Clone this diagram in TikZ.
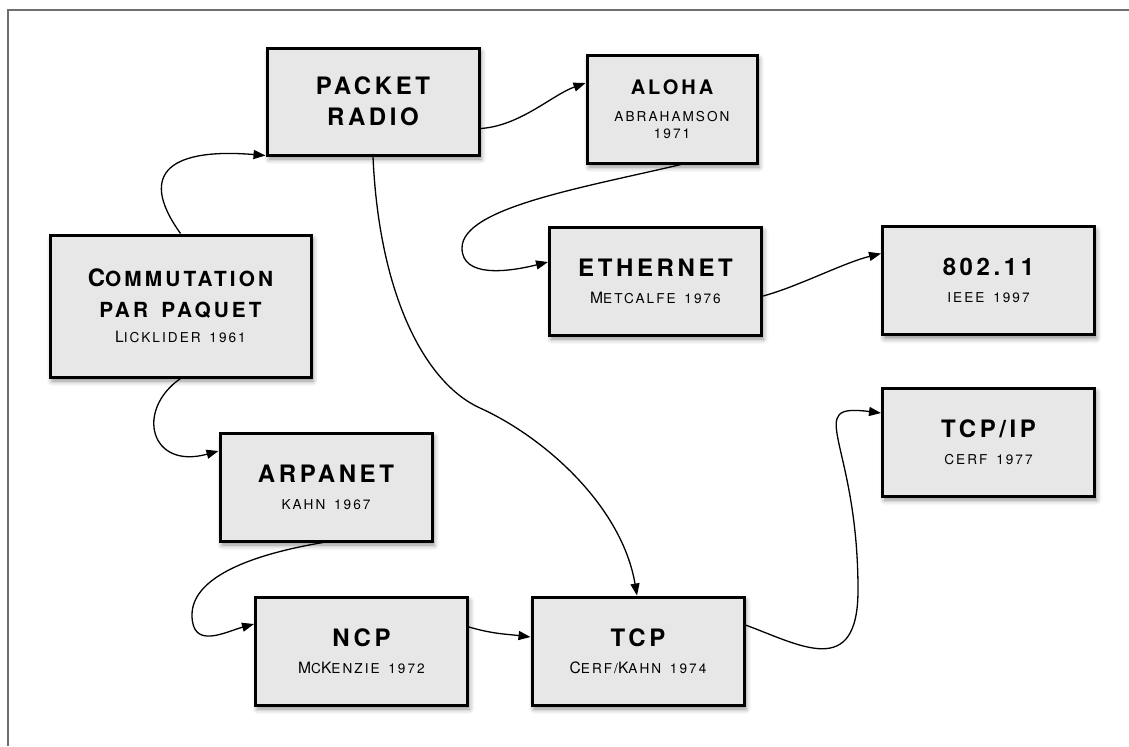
\documentclass[tikz,border=0pt]{standalone}
\usepackage{fontspec}
\setmainfont{TeX Gyre Heros}[LetterSpace=15,WordSpace=1.5]
\usetikzlibrary{arrows.meta,calc,shadows.blur}

\definecolor{boxgray}{RGB}{231,231,231}
\definecolor{framegray}{RGB}{110,110,110}

\newcommand{\titre}[2][12]{{\fontsize{#1}{13.5}\selectfont\bfseries #2}}
\newcommand{\petit}[1]{{\fontsize{6.8}{13.5}\selectfont #1}}
\newcommand{\initiale}[1]{{\fontsize{7.8}{13.5}\selectfont #1}}

\tikzset{
  techbox/.style={draw, line width=1.5pt, fill=boxgray, inner sep=0pt,
    minimum width=106pt, minimum height=54pt, align=center,
    font=\fontsize{7}{13.5}\selectfont,
    blur shadow={shadow xshift=1pt, shadow yshift=-2pt, shadow blur radius=2.5pt, shadow opacity=45}},
  link/.style={line width=0.65pt, -{Triangle[length=6pt,width=4.5pt]}}
}

\begin{document}
\begin{tikzpicture}[x=0.5pt,y=-0.5pt]
\useasboundingbox (0,0) rectangle (1129,746);
% frame
\draw[framegray, line width=1pt] (7.5,746) -- (7.5,9.5) -- (1129,9.5);

% boxes
\node[techbox, minimum height=53.5pt] (pr) at (373,101.5) {\titre{PACKET}\\[2pt]\titre{RADIO}};
\node[techbox, minimum width=85pt] (aloha) at (672,109) {\titre[10]{ALOHA}\\ \petit{ABRAHAMSON}\\[-5pt]\petit{1971}};
\node[techbox, minimum width=130.5pt, minimum height=71pt] (comm) at (180.5,306)
  {{\fontsize{12}{13.5}\selectfont\bfseries C}{\fontsize{10.4}{13.5}\selectfont\bfseries OMMUTATION}\\[2pt]
   {\fontsize{10.4}{13.5}\selectfont\bfseries PAR PAQUET}\\[-1pt]\initiale{L}\petit{ICKLIDER 1961}};
\node[techbox] (eth) at (655.5,281) {\titre{ETHERNET}\\ \initiale{M}\petit{ETCALFE 1976}};
\node[techbox] (ieee) at (988.5,280.5) {\titre{802.11}\\ \petit{IEEE 1997}};
\node[techbox] (tcpip) at (988.5,442) {\titre{TCP/IP}\\ \petit{CERF 1977}};
\node[techbox] (arpa) at (326,487) {\titre{ARPANET}\\ \petit{KAHN 1967}};
\node[techbox] (ncp) at (361.5,651) {\titre{NCP}\\ \initiale{M}\petit{C}\initiale{K}\petit{ENZIE 1972}};
\node[techbox] (tcp) at (638,651) {\titre{TCP}\\ \initiale{C}\petit{ERF/}\initiale{K}\petit{AHN 1974}};

% waypoints
\coordinate (pr-tcp) at (480,408);
\coordinate (aloha-eth) at (462,248);
\coordinate (arpa-ncp) at (192,615);
\coordinate (tcp-ip) at (858,590);

% links
\draw[link] (comm.north) .. controls (135,170) and (175,148) .. ($(pr.south west)+(0,-1)$);
\draw[link] ($(pr.east)+(0,27)$) .. controls (520,126) and (552,95) .. ($(aloha.west)+(0,-26)$);
\draw[link] (pr.south) .. controls (379,295) and (425,383) .. (pr-tcp)
  .. controls (546,438) and (622,507) .. ($(tcp.north)+(-1,0)$);
\draw[link] ($(aloha.south)+(9,0)$) .. controls (581,188) and (462,208) .. (aloha-eth)
  .. controls (462,278) and (508,272) .. ($(eth.west)+(0,-19)$);
\draw[link] ($(eth.east)+(0,15)$) .. controls (797,287) and (843,263) .. ($(ieee.west)+(0,-27)$);
\draw[link] (comm.south) .. controls (135,410) and (150,470) .. ($(arpa.west)+(0,-36)$);
\draw[link] ($(arpa.south)+(-3,0)$) .. controls (243,556) and (192,580) .. (arpa-ncp)
  .. controls (192,650) and (225,632) .. ($(ncp.west)+(0,-27)$);
\draw[link] ($(ncp.east)+(0,-24)$) .. controls (493,634) and (506,634) .. ($(tcp.west)+(0,-14)$);
\draw[link] ($(tcp.east)+(0,-26)$) .. controls (800,645) and (858,680) .. (tcp-ip)
  .. controls (858,440) and (802,403) .. ($(tcpip.west)+(0,-29)$);
\end{tikzpicture}
\end{document}
